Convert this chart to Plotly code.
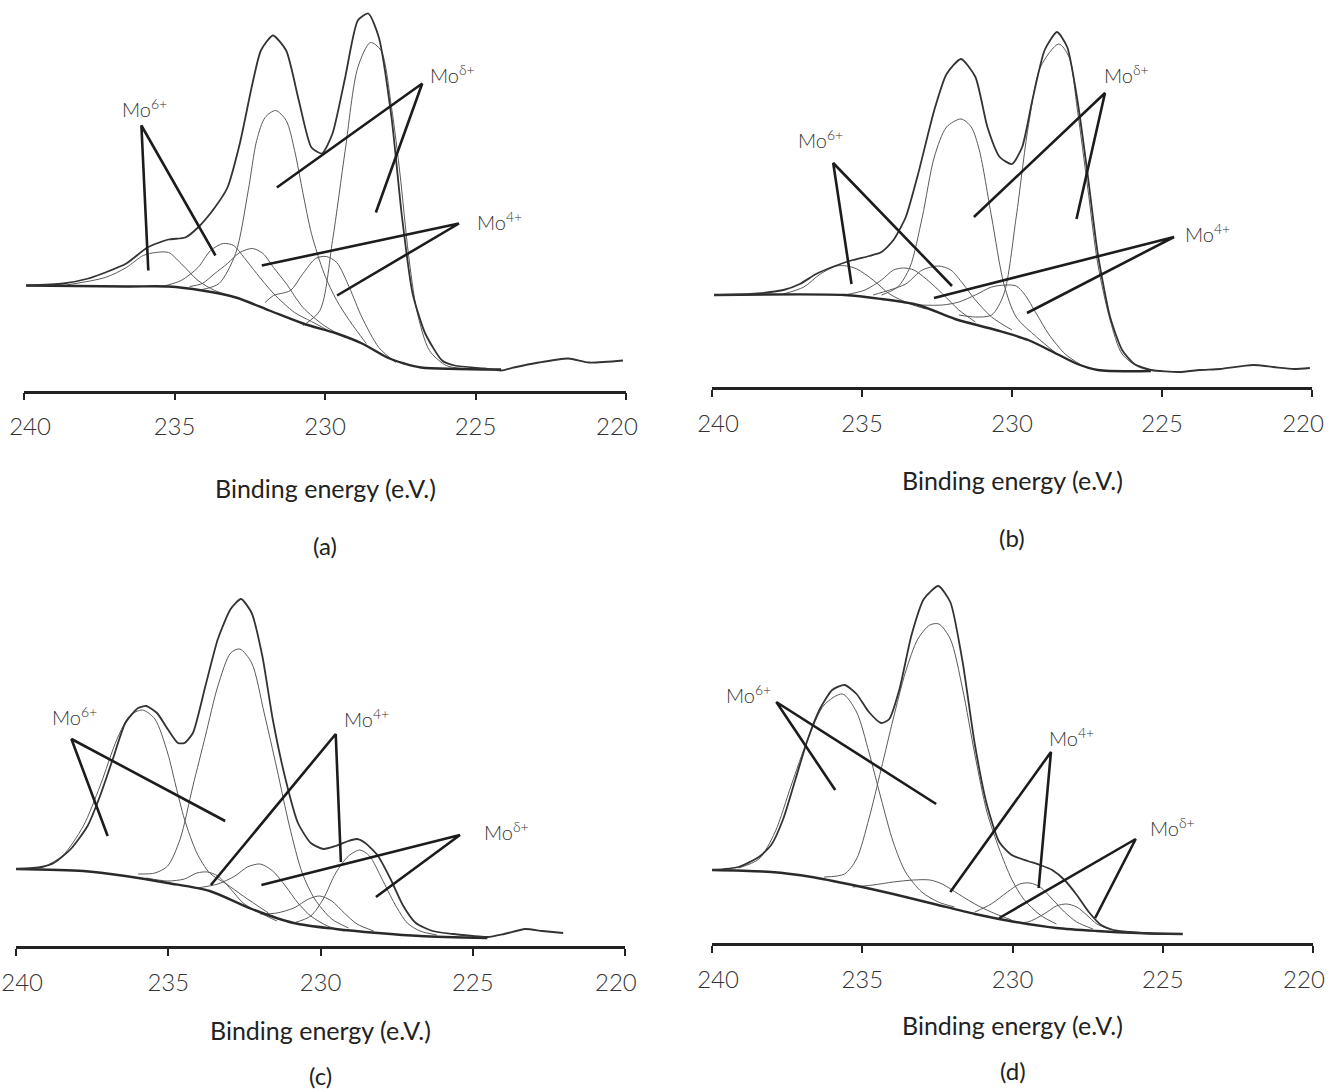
import plotly.graph_objects as go

W, H = 1328, 1089
TICKS = [240, 235, 230, 225, 220]
TICK_TEXT = ["240", "235", "230", "225", "220"]
# the end labels sit slightly inside their tick marks in the original
TICK_LABEL_AT = [239.8, 235, 230, 225, 220.3]
AXIS_TITLE = "Binding energy (e.V.)"
PANEL_TAGS = ["(a)", "(b)", "(c)", "(d)"]

# ---------------- panel (a) ----------------
A_ENV_BE = [239.93, 238.70, 237.86, 237.30, 236.60, 235.90, 235.20, 234.64, 234.22, 233.66, 233.24, 232.83, 232.41, 232.13, 231.73, 231.29, 230.87, 230.45, 230.10, 229.75, 229.33, 228.91, 228.56, 228.21, 227.79, 227.44, 227.09, 226.67, 226.11, 225.69, 224.71, 224.15, 223.73, 222.90, 221.92, 221.22, 220.10]
A_ENV_I = [105, 107, 112, 118, 127, 143, 151, 153, 163, 183, 203, 247, 307, 340, 355, 340, 290, 243, 237, 257, 313, 370, 377, 353, 273, 173, 97, 57, 30, 25, 22, 20, 23, 28, 32, 28, 30]
A_BG_BE = [239.93, 236.60, 235.20, 234.08, 232.96, 231.85, 230.73, 229.61, 228.77, 227.93, 227.37, 226.81, 224.15]
A_BG_I = [105, 104, 104, 100, 93, 80, 67, 57, 47, 33, 27, 23, 21]
A_P1_BE = [238.70, 237.30, 236.60, 236.04, 235.62, 235.20, 234.78, 234.22, 233.66, 232.96]
A_P1_I = [105, 113, 123, 135, 138, 138, 127, 110, 100, 93]
A_P2_BE = [235.41, 234.78, 234.22, 233.80, 233.38, 233.04, 232.69, 232.27, 231.71, 231.01, 230.45, 229.89]
A_P2_I = [104, 110, 123, 140, 147, 145, 133, 117, 97, 78, 69, 60]
A_P3_BE = [234.50, 234.08, 233.66, 233.24, 232.83, 232.41, 232.06, 231.71, 231.29, 230.73, 230.03, 229.33]
A_P3_I = [104, 107, 117, 127, 138, 142, 137, 123, 107, 83, 65, 53]
A_P4_BE = [234.08, 233.52, 232.97, 232.55, 232.27, 231.99, 231.64, 231.29, 231.01, 230.73, 230.45, 230.03, 229.61, 229.19, 228.63]
A_P4_I = [101, 107, 137, 200, 250, 273, 280, 270, 240, 197, 157, 117, 90, 70, 47]
A_P5_BE = [231.99, 231.71, 231.15, 230.73, 230.31, 229.96, 229.61, 229.19, 228.77, 228.21, 227.65]
A_P5_I = [88, 95, 100, 117, 132, 134, 128, 103, 73, 43, 28]
A_P6_BE = [230.73, 230.17, 229.75, 229.33, 228.91, 228.49, 228.14, 227.79, 227.51, 227.23, 226.95, 226.53, 225.97, 225.41]
A_P6_I = [65, 80, 150, 240, 323, 348, 340, 283, 217, 137, 80, 40, 25, 22]

# ---------------- panel (b) ----------------
B_ENV_BE = [239.93, 238.71, 237.62, 237.07, 236.53, 235.99, 235.31, 234.76, 234.35, 233.95, 233.54, 233.13, 232.59, 232.18, 231.70, 231.22, 230.82, 230.41, 230.00, 229.66, 229.32, 228.91, 228.50, 228.16, 227.82, 227.48, 227.14, 226.73, 226.33, 225.92, 225.37, 224.42, 223.74, 223.06, 221.97, 221.29, 220.61, 220.07]
B_ENV_I = [92, 93, 97, 103, 113, 120, 127, 131, 135, 147, 170, 213, 277, 313, 328, 310, 260, 230, 223, 240, 287, 337, 355, 340, 287, 213, 133, 70, 37, 23, 17, 15, 17, 18, 22, 20, 18, 19]
B_BG_BE = [239.93, 235.58, 234.35, 233.13, 231.90, 230.54, 229.46, 228.50, 227.82, 227.14, 225.37]
B_BG_I = [92, 92, 88, 82, 68, 57, 47, 33, 23, 17, 16]
B_P1_BE = [237.62, 236.94, 236.39, 235.85, 235.51, 235.17, 234.63, 234.08, 233.40, 232.86]
B_P1_I = [93, 100, 113, 121, 121, 118, 107, 93, 83, 78]
B_P2_BE = [235.58, 234.90, 234.35, 233.95, 233.61, 233.27, 232.86, 232.31, 231.77, 231.22]
B_P2_I = [92, 97, 107, 117, 119, 117, 108, 93, 77, 65]
B_P3_BE = [234.63, 234.08, 233.54, 232.99, 232.45, 232.04, 231.63, 231.22, 230.68, 230.00]
B_P3_I = [92, 97, 103, 117, 121, 117, 103, 87, 70, 57]
B_P4_BE = [234.35, 233.81, 233.40, 232.99, 232.59, 232.18, 231.70, 231.36, 231.09, 230.68, 230.27, 229.86, 229.18, 228.50]
B_P4_I = [92, 100, 120, 170, 230, 260, 268, 260, 237, 170, 103, 70, 50, 33]
B_P5_BE = [233.13, 232.31, 231.77, 231.22, 230.68, 230.20, 229.86, 229.59, 229.18, 228.78, 228.23, 227.69]
B_P5_I = [82, 82, 85, 92, 100, 102, 101, 93, 73, 53, 33, 22]
B_P6_BE = [231.77, 231.22, 230.68, 230.27, 229.86, 229.46, 229.05, 228.44, 228.10, 227.82, 227.48, 227.14, 226.73, 226.33, 225.78, 225.24]
B_P6_I = [72, 70, 72, 93, 170, 260, 320, 343, 330, 277, 200, 123, 67, 33, 20, 16]

# ---------------- panel (c) ----------------
C_ENV_BE = [240.00, 239.17, 238.76, 238.20, 237.65, 237.24, 236.82, 236.41, 235.99, 235.72, 235.37, 235.02, 234.68, 234.47, 234.19, 233.78, 233.37, 232.95, 232.61, 232.26, 231.91, 231.57, 231.15, 230.74, 230.32, 229.91, 229.50, 229.08, 228.80, 228.53, 228.11, 227.70, 227.28, 226.87, 226.32, 225.63, 224.52, 223.97, 223.28, 222.72, 222.03]
C_ENV_I = [77, 79, 83, 97, 120, 150, 187, 223, 238, 240, 233, 217, 203, 203, 213, 260, 307, 337, 347, 333, 290, 227, 167, 123, 103, 97, 100, 105, 107, 103, 90, 67, 40, 23, 15, 12, 9, 12, 17, 15, 13]
C_BG_BE = [240.00, 237.79, 236.41, 235.02, 233.64, 232.26, 230.88, 229.50, 228.11, 226.73, 224.52]
C_BG_I = [77, 75, 70, 63, 55, 37, 23, 17, 13, 10, 8]
C_P1_BE = [239.17, 238.48, 237.79, 237.24, 236.68, 236.27, 235.85, 235.44, 235.02, 234.75, 234.47, 234.06, 233.64, 233.09, 232.54, 231.71]
C_P1_I = [78, 90, 120, 160, 207, 230, 236, 227, 193, 160, 127, 93, 73, 62, 50, 33]
C_P2_BE = [235.99, 235.44, 235.02, 234.61, 234.19, 233.78, 233.37, 232.95, 232.65, 232.26, 231.85, 231.43, 231.02, 230.60, 230.19, 229.63, 229.08]
C_P2_I = [72, 73, 80, 107, 160, 210, 260, 293, 297, 283, 233, 177, 120, 73, 47, 27, 18]
C_P3_BE = [235.72, 235.02, 234.47, 234.06, 233.71, 233.37, 232.95, 232.54, 231.98, 231.43]
C_P3_I = [68, 65, 67, 73, 74, 70, 57, 43, 33, 25]
C_P4_BE = [234.06, 233.37, 232.81, 232.40, 231.98, 231.57, 231.15, 230.74, 230.32, 229.77, 229.22]
C_P4_I = [58, 62, 70, 79, 82, 75, 60, 43, 30, 20, 15]
C_P5_BE = [231.98, 231.43, 230.88, 230.39, 230.02, 229.63, 229.22, 228.80, 228.25]
C_P5_I = [32, 33, 38, 47, 50, 45, 33, 22, 15]
C_P6_BE = [230.88, 230.32, 229.91, 229.50, 229.08, 228.71, 228.39, 227.98, 227.56, 227.15, 226.73, 226.18]
C_P6_I = [23, 30, 47, 73, 90, 96, 90, 67, 42, 23, 15, 11]

# ---------------- panel (d) ----------------
D_ENV_BE = [240.00, 239.12, 238.44, 238.03, 237.63, 237.22, 236.81, 236.41, 236.00, 235.59, 235.19, 234.78, 234.37, 234.10, 233.76, 233.36, 232.95, 232.47, 232.07, 231.66, 231.25, 230.85, 230.44, 230.03, 229.49, 229.08, 228.68, 228.27, 227.86, 227.46, 227.05, 226.64, 226.10, 225.15, 224.34]
D_ENV_I = [73, 76, 86, 98, 124, 164, 204, 234, 253, 258, 249, 231, 220, 224, 254, 308, 344, 357, 341, 281, 198, 138, 101, 88, 82, 78, 73, 63, 48, 31, 18, 13, 11, 9, 9]
D_BG_BE = [240.00, 238.03, 236.68, 235.32, 233.97, 232.61, 231.25, 229.90, 228.54, 227.19, 225.83, 224.34]
D_BG_I = [73, 71, 66, 58, 49, 39, 29, 21, 15, 12, 10, 9]
D_P1_BE = [239.12, 238.44, 237.90, 237.36, 236.81, 236.27, 235.66, 235.19, 234.78, 234.37, 233.97, 233.56, 233.02, 232.47, 231.93]
D_P1_I = [75, 84, 111, 158, 204, 238, 249, 231, 191, 144, 101, 71, 51, 41, 36]
D_P2_BE = [236.27, 235.59, 235.19, 234.78, 234.37, 233.97, 233.56, 233.15, 232.75, 232.45, 232.07, 231.66, 231.25, 230.85, 230.44, 230.03, 229.63, 229.08, 228.54]
D_P2_I = [66, 69, 84, 124, 174, 224, 271, 304, 318, 319, 304, 254, 188, 131, 94, 64, 44, 28, 19]
D_P3_BE = [235.32, 234.64, 233.97, 233.29, 232.75, 232.34, 231.80, 231.25, 230.71, 230.03]
D_P3_I = [56, 58, 61, 63, 63, 59, 49, 39, 31, 23]
D_P4_BE = [231.25, 230.71, 230.17, 229.76, 229.42, 229.08, 228.68, 228.27, 227.86, 227.32]
D_P4_I = [31, 39, 51, 59, 60, 56, 44, 31, 21, 14]
D_P5_BE = [230.03, 229.49, 228.95, 228.54, 228.20, 227.86, 227.53, 227.19, 226.78]
D_P5_I = [21, 21, 29, 37, 39, 36, 28, 19, 14]

# ---------------- labels: text position, leader apex, two leader ends ----------------
LABEL_NAMES = ["Mo<sup>6+</sup>", "Mo<sup>δ+</sup>", "Mo<sup>4+</sup>"]
A_LABEL_TEXT = [(236.0, 283), (225.76, 317), (224.2, 170)]
A_LABEL_APEX = [(236.1, 265), (226.77, 307), (225.55, 167)]
A_LABEL_END1 = [(235.87, 120), (231.6, 203), (232.1, 125)]
A_LABEL_END2 = [(233.64, 135), (228.31, 178), (229.6, 95)]

B_LABEL_TEXT = [(236.37, 248), (226.2, 313), (223.5, 154)]
B_LABEL_APEX = [(235.96, 224), (226.9, 294), (224.6, 150)]
B_LABEL_END1 = [(235.35, 103), (231.27, 170), (232.6, 89)]
B_LABEL_END2 = [(232.0, 101), (227.85, 168), (229.5, 74)]

C_LABEL_TEXT = [(238.09, 230), (223.9, 115), (228.5, 228)]
C_LABEL_APEX = [(238.18, 207), (225.42, 111), (229.5, 212)]
C_LABEL_END1 = [(236.99, 110), (231.94, 61), (233.6, 61)]
C_LABEL_END2 = [(233.13, 125), (228.18, 49), (229.33, 84)]

D_LABEL_TEXT = [(238.78, 249), (224.68, 116), (228.04, 206)]
D_LABEL_APEX = [(237.86, 241), (225.9, 104), (228.72, 191)]
D_LABEL_END1 = [(235.9, 153), (230.44, 25), (232.07, 51)]
D_LABEL_END2 = [(232.54, 139), (227.25, 25), (229.13, 55)]

# ---------------- layout geometry (pixels) ----------------
PANELS = [
    dict(x0=24, x1=626, top=0, axis=390.5, title_y=488, tag_y=545),
    dict(x0=712, x1=1312, top=0, axis=387, title_y=480, tag_y=537),
    dict(x0=16, x1=625, top=555, axis=946, title_y=1030, tag_y=1075),
    dict(x0=712, x1=1313, top=555, axis=943, title_y=1025, tag_y=1070),
]

CURVES = [
    (A_ENV_BE, A_ENV_I, A_BG_BE, A_BG_I,
     [(A_P1_BE, A_P1_I), (A_P2_BE, A_P2_I), (A_P3_BE, A_P3_I), (A_P4_BE, A_P4_I), (A_P5_BE, A_P5_I), (A_P6_BE, A_P6_I)],
     (A_LABEL_TEXT, A_LABEL_APEX, A_LABEL_END1, A_LABEL_END2)),
    (B_ENV_BE, B_ENV_I, B_BG_BE, B_BG_I,
     [(B_P1_BE, B_P1_I), (B_P2_BE, B_P2_I), (B_P3_BE, B_P3_I), (B_P4_BE, B_P4_I), (B_P5_BE, B_P5_I), (B_P6_BE, B_P6_I)],
     (B_LABEL_TEXT, B_LABEL_APEX, B_LABEL_END1, B_LABEL_END2)),
    (C_ENV_BE, C_ENV_I, C_BG_BE, C_BG_I,
     [(C_P1_BE, C_P1_I), (C_P2_BE, C_P2_I), (C_P3_BE, C_P3_I), (C_P4_BE, C_P4_I), (C_P5_BE, C_P5_I), (C_P6_BE, C_P6_I)],
     (C_LABEL_TEXT, C_LABEL_APEX, C_LABEL_END1, C_LABEL_END2)),
    (D_ENV_BE, D_ENV_I, D_BG_BE, D_BG_I,
     [(D_P1_BE, D_P1_I), (D_P2_BE, D_P2_I), (D_P3_BE, D_P3_I), (D_P4_BE, D_P4_I), (D_P5_BE, D_P5_I)],
     (D_LABEL_TEXT, D_LABEL_APEX, D_LABEL_END1, D_LABEL_END2)),
]

FONT = "Lato"
fig = go.Figure()
annotations = []
layout = {}

for k, (panel, curves) in enumerate(zip(PANELS, CURVES)):
    env_x, env_y, bg_x, bg_y, peaks, labels = curves
    sfx = "" if k == 0 else str(k + 1)
    xa, ya = "x" + sfx, "y" + sfx
    lab_sfx = str(k + 5)

    for px, py in peaks:
        fig.add_trace(go.Scatter(x=px, y=py, xaxis=xa, yaxis=ya, mode="lines",
                                 line=dict(color="#5a5a5a", width=1, shape="spline", smoothing=0.8),
                                 hoverinfo="skip", showlegend=False))
    fig.add_trace(go.Scatter(x=bg_x, y=bg_y, xaxis=xa, yaxis=ya, mode="lines",
                             line=dict(color="#2a2a2a", width=2.4, shape="spline", smoothing=0.8),
                             hoverinfo="skip", showlegend=False))
    fig.add_trace(go.Scatter(x=env_x, y=env_y, xaxis=xa, yaxis=ya, mode="lines",
                             line=dict(color="#333333", width=1.8, shape="spline", smoothing=0.6),
                             hoverinfo="skip", showlegend=False))
    # carrier for the tick-label axis (invisible markers)
    fig.add_trace(go.Scatter(x=TICK_LABEL_AT, y=[0] * len(TICK_LABEL_AT), xaxis="x" + lab_sfx, yaxis=ya,
                             mode="markers", marker=dict(size=1, opacity=0),
                             hoverinfo="skip", showlegend=False))

    txt, apex, e1, e2 = labels
    for name, t, a, p1, p2 in zip(LABEL_NAMES, txt, apex, e1, e2):
        fig.add_trace(go.Scatter(x=[p1[0], a[0], p2[0]], y=[p1[1], a[1], p2[1]], xaxis=xa, yaxis=ya,
                                 mode="lines", line=dict(color="#1c1c1c", width=2.6),
                                 hoverinfo="skip", showlegend=False))
        annotations.append(dict(x=t[0], y=t[1], xref=xa, yref=ya, text=name, showarrow=False,
                                font=dict(family=FONT, size=20, color="#333333", weight=300),
                                xanchor="center", yanchor="middle"))

    height = panel["axis"] - panel["top"]
    dom = [panel["x0"] / W, panel["x1"] / W]
    layout["xaxis" + sfx] = dict(
        domain=dom, range=[240, 220], anchor=ya,
        tickvals=TICKS, ticks="outside", ticklen=7, tickwidth=2, showticklabels=False,
        tickcolor="#222222", showline=True, linecolor="#222222", linewidth=2.5,
        showgrid=False, zeroline=False, automargin=False, fixedrange=True)
    layout["xaxis" + lab_sfx] = dict(
        domain=dom, range=[240, 220], anchor=ya, overlaying=xa, side="bottom",
        tickvals=TICK_LABEL_AT, ticktext=TICK_TEXT, ticks="outside", ticklen=7, tickwidth=2,
        tickcolor="rgba(0,0,0,0)", showline=False, showgrid=False, zeroline=False,
        ticklabelstandoff=8, automargin=False, ticklabeloverflow="allow",
        tickfont=dict(family=FONT, size=24, color="#333333", weight=300), fixedrange=True)
    layout["yaxis" + sfx] = dict(
        domain=[1 - panel["axis"] / H, 1 - panel["top"] / H], range=[0, height], anchor=xa,
        visible=False, showgrid=False, zeroline=False, fixedrange=True, automargin=False)

    cx = (panel["x0"] + panel["x1"]) / 2 / W
    annotations.append(dict(x=cx, y=1 - panel["title_y"] / H, xref="paper", yref="paper",
                            text=AXIS_TITLE, showarrow=False, xanchor="center", yanchor="middle",
                            font=dict(family=FONT, size=25, color="#222222")))
    annotations.append(dict(x=cx, y=1 - panel["tag_y"] / H, xref="paper", yref="paper",
                            text=PANEL_TAGS[k], showarrow=False, xanchor="center", yanchor="middle",
                            font=dict(family=FONT, size=24, color="#222222")))

fig.update_layout(width=W, height=H, margin=dict(l=0, r=0, t=0, b=0, autoexpand=False),
                  paper_bgcolor="white", plot_bgcolor="white",
                  annotations=annotations, **layout)

fig.write_html("out.html", config={"displayModeBar": False},
               post_script="document.body.style.margin='0px';document.body.style.overflow='hidden';")
